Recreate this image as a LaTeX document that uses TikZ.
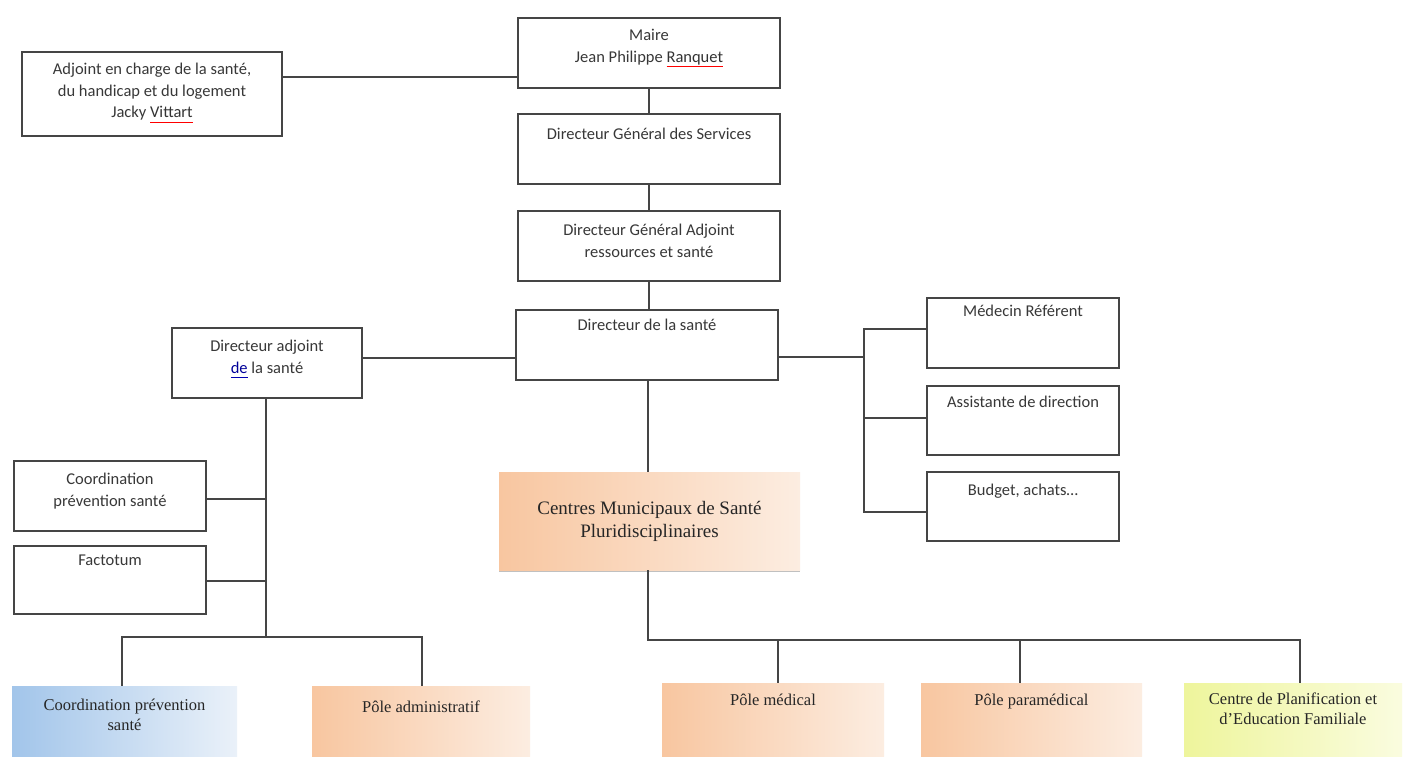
\documentclass[tikz,border=0pt]{standalone}
\usepackage{fontspec}
\setmainfont{Liberation Serif}
\newfontfamily\carl{Carlito}
\usetikzlibrary{shadows}
\definecolor{peach}{HTML}{F8C6A0}
\definecolor{peachl}{HTML}{FCEDE1}
\definecolor{bluel}{HTML}{A2C5EA}
\definecolor{bluell}{HTML}{EAF1F9}
\definecolor{yell}{HTML}{EEF59C}
\definecolor{yelll}{HTML}{FAFCDF}
\definecolor{ln}{HTML}{454545}
\newcommand\redul[1]{{\color{red}\underline{\textcolor{black!80}{#1}\vphantom{q}}}}
\newcommand\blueul[1]{{\color{blue!70!black}\underline{\textcolor{blue!60!black}{#1}\vphantom{q}}}}
\begin{document}
\begin{tikzpicture}[x=1pt,y=-1pt,
  box/.style={draw=ln, line width=1.8pt, fill=white, inner sep=0pt,
    drop shadow={shadow xshift=0.8pt,shadow yshift=-0.8pt,fill=gray!60,opacity=0.6}},
  txt/.style={font=\carl\fontsize{16.5}{21.5}\selectfont, text=black!78, align=center, inner sep=0pt, anchor=north},
  gbox/.style={draw=none, inner sep=0pt,
    drop shadow={shadow xshift=0pt,shadow yshift=-2pt,fill=gray!70,opacity=0.7}},
  orange/.style={gbox, left color=peach, right color=peachl},
  blueb/.style={gbox, left color=bluel, right color=bluell},
  yellb/.style={gbox, left color=yell, right color=yelll},
  gtxt/.style={font=\fontsize{16.5}{20}\selectfont, text=black!85, align=center, inner sep=0pt, anchor=north},
  conn/.style={draw=ln, line width=1.6pt}]
\useasboundingbox (0,0) rectangle (1413,756);
\fill[white] (0,0) rectangle (1413,756);

% black-bordered boxes
\node[box, minimum width=262pt, minimum height=70pt] (maire) at (649,53) {};
\node[box, minimum width=260pt, minimum height=84pt] (adj) at (152,94) {};
\node[box, minimum width=262pt, minimum height=70pt] (dgs) at (649,149) {};
\node[box, minimum width=262pt, minimum height=70pt] (dga) at (649,246) {};
\node[box, minimum width=262pt, minimum height=70pt] (dirs) at (647,345) {};
\node[box, minimum width=190pt, minimum height=70pt] (dira) at (267,363) {};
\node[box, minimum width=192pt, minimum height=70pt] (med) at (1023,333) {};
\node[box, minimum width=192pt, minimum height=69pt] (ass) at (1023,420.5) {};
\node[box, minimum width=192pt, minimum height=69pt] (bud) at (1023,506.5) {};
\node[box, minimum width=192pt, minimum height=70pt] (coos) at (110,496) {};
\node[box, minimum width=192pt, minimum height=68pt] (fact) at (110,580) {};

% texts of black boxes
\node[txt] (maire-t) at ([yshift=-12pt]maire.north) {Maire\\Jean Philippe \redul{Ranquet}};
\node[txt] (adj-t) at ([yshift=-12pt]adj.north) {Adjoint en charge de la santé,\\du handicap et du logement\\Jacky \redul{Vittart}};
\node[txt] (dgs-t) at ([yshift=-15pt]dgs.north) {Directeur Général des Services};
\node[txt] (dga-t) at ([yshift=-14pt]dga.north) {Directeur Général Adjoint\\ressources et santé};
\node[txt] (dirs-t) at ([yshift=-10pt]dirs.north) {Directeur de la santé};
\node[txt] (dira-t) at ([yshift=-13pt]dira.north) {Directeur adjoint\\\blueul{de} la santé};
\node[txt] (med-t) at ([yshift=-8pt]med.north) {Médecin Référent};
\node[txt] (ass-t) at ([yshift=-11pt]ass.north) {Assistante de direction};
\node[txt] (bud-t) at ([yshift=-13pt]bud.north) {Budget, achats\dots};
\node[txt] (coos-t) at ([yshift=-13pt]coos.north) {Coordination\\prévention santé};
\node[txt] (fact-t) at ([yshift=-10pt]fact.north) {Factotum};

% gradient boxes
\node[orange, minimum width=301pt, minimum height=98pt, font=\fontsize{19}{23}\selectfont, text=black!85, align=center] (cms) at (649.5,521) {Centres Municipaux de Santé\\Pluridisciplinaires};
\node[blueb, minimum width=225pt, minimum height=84pt] (coob) at (124.5,728) {};
\node[orange, minimum width=218pt, minimum height=84pt] (adm) at (421,728) {};
\node[orange, minimum width=222pt, minimum height=87pt] (pmed) at (773,726.5) {};
\node[orange, minimum width=221pt, minimum height=87pt] (ppara) at (1031.5,726.5) {};
\node[yellb, minimum width=218pt, minimum height=87pt] (cpef) at (1293,726.5) {};

\node[gtxt] (coob-t) at ([yshift=-13.5pt]coob.north) {Coordination prévention\\santé};
\node[gtxt] (adm-t) at ([yshift=-14.5pt]adm.north) {Pôle administratif};
\node[gtxt] (pmed-t) at ([yshift=-11.5pt]pmed.north) {Pôle médical};
\node[gtxt] (ppara-t) at ([yshift=-11.5pt]ppara.north) {Pôle paramédical};
\node[gtxt] (cpef-t) at ([yshift=-9.5pt]cpef.north) {Centre de Planification et\\d'Education Familiale};

% junction coordinates
\coordinate (rb) at (864,357);
\coordinate (lb) at (266,637);
\coordinate (cb) at (648,640);

% connectors
\draw[conn] ([yshift=17pt]adj.east) -- ([yshift=17pt]adj.east -| maire.west);
\draw[conn] (maire.south) -- (dgs.north);
\draw[conn] (dgs.south) -- (dga.north);
\draw[conn] (dga.south) -- (dga.south |- dirs.north);
\draw[conn] ([xshift=1pt]dirs.south) -- ([xshift=1pt]dirs.south |- cms.north);
\draw[conn] ([yshift=-12pt]dirs.east) -- (rb);
\draw[conn] ([yshift=4pt]med.west) -- ([yshift=4pt]med.west -| rb) -- ([yshift=-5.5pt]bud.west -| rb) -- ([yshift=-5.5pt]bud.west);
\draw[conn] ([yshift=2.5pt]ass.west) -- ([yshift=2.5pt]ass.west -| rb);
\draw[conn] ([yshift=5pt]dira.east) -- ([yshift=5pt]dira.east -| dirs.west);
\draw[conn] ([xshift=-1pt]dira.south) -- (lb);
\draw[conn] ([yshift=-3pt]coos.east) -- ([yshift=-3pt]coos.east -| lb);
\draw[conn] ([yshift=-1pt]fact.east) -- ([yshift=-1pt]fact.east -| lb);
\draw[conn] ([xshift=-2.5pt]coob.north) |- (lb) -| ([xshift=1pt]adm.north);
\draw[conn] ([xshift=-1.5pt]cms.south) -- (cb) -| ([xshift=7pt]cpef.north);
\draw[conn] ([xshift=5pt]pmed.north) -- ([xshift=5pt]pmed.north |- cb);
\draw[conn] ([xshift=-11.5pt]ppara.north) -- ([xshift=-11.5pt]ppara.north |- cb);
\end{tikzpicture}
\end{document}
